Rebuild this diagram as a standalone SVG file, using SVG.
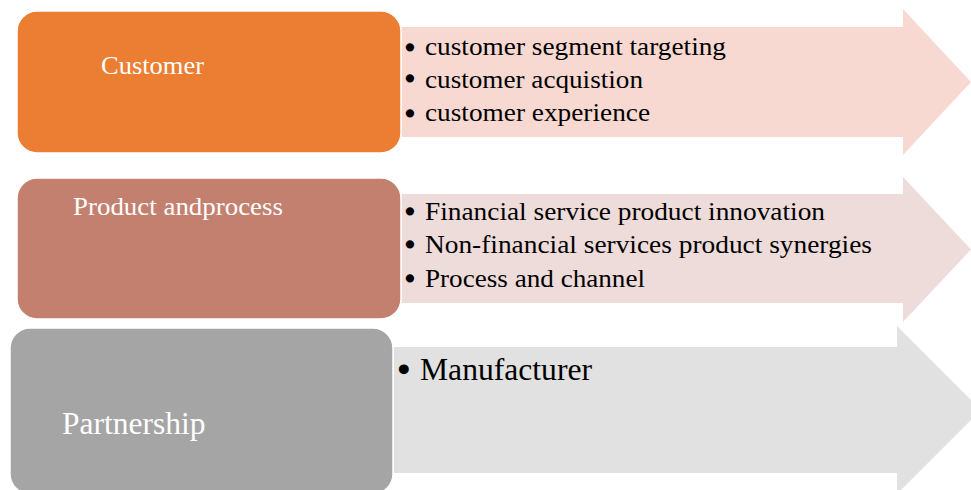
<svg xmlns="http://www.w3.org/2000/svg" width="971" height="490" viewBox="0 0 971 490">
  <style>
    .box { stroke: #ffffff; stroke-width: 1.5; }
    .label { font-family: "Liberation Serif", "Times New Roman", serif; fill: #ffffff; }
    .item { font-family: "Liberation Serif", "Times New Roman", serif; fill: #000000; font-size: 25px; }
    .dot { font-family: "Liberation Serif", "Times New Roman", serif; fill: #000000; stroke: #000000; stroke-width: 1.6; font-size: 28px; }
    .big { font-size: 32px; }
    .bigdot { font-size: 36px; stroke-width: 1.2; }
  </style>
  <rect width="971" height="490" fill="#ffffff"/>

  <!-- block arrows behind each category -->
  <g id="arrows">
    <polygon points="401,27 903,27 903,9 971,82 903,155 903,137 401,137" fill="#F8D9D2"/>
    <polygon points="401,194 903,194 903,177 971,249.5 903,322 903,303 401,303" fill="#EEDCDA"/>
    <polygon points="394,347 897,347 897,326 981,410 897,494 897,473 394,473" fill="#E1E1E1"/>
  </g>

  <g id="customer">
    <rect class="box" x="17" y="11" width="384" height="142" rx="20" fill="#EC7E33"/>
    <text class="label" x="101" y="74" font-size="25" textLength="103" lengthAdjust="spacingAndGlyphs">Customer</text>
    <text class="dot" x="405.1" y="56.7">•</text>
    <text class="item" x="425" y="55" textLength="301" lengthAdjust="spacingAndGlyphs">customer segment targeting</text>
    <text class="dot" x="405.1" y="87.5">•</text>
    <text class="item" x="425" y="88" textLength="218" lengthAdjust="spacingAndGlyphs">customer acquistion</text>
    <text class="dot" x="405.1" y="123">•</text>
    <text class="item" x="425" y="121" textLength="225" lengthAdjust="spacingAndGlyphs">customer experience</text>
  </g>

  <g id="product-process">
    <rect class="box" x="17" y="178" width="384" height="141" rx="20" fill="#C4806F"/>
    <text class="label" x="73" y="215" font-size="25" textLength="210" lengthAdjust="spacingAndGlyphs">Product andprocess</text>
    <text class="dot" x="405.1" y="221">•</text>
    <text class="item" x="425" y="220" textLength="400" lengthAdjust="spacingAndGlyphs">Financial service product innovation</text>
    <text class="dot" x="405.1" y="254">•</text>
    <text class="item" x="425" y="253" textLength="447" lengthAdjust="spacingAndGlyphs">Non-financial services product synergies</text>
    <text class="dot" x="405.1" y="288">•</text>
    <text class="item" x="425" y="287" textLength="220" lengthAdjust="spacingAndGlyphs">Process and channel</text>
  </g>

  <g id="partnership">
    <rect class="box" x="10" y="328" width="383" height="166" rx="20" fill="#A5A5A5"/>
    <text class="label" x="62" y="434" font-size="31.5">Partnership</text>
    <text class="dot bigdot" x="397.4" y="382">•</text>
    <text class="item big" x="420" y="380" textLength="172" lengthAdjust="spacingAndGlyphs">Manufacturer</text>
  </g>
</svg>
